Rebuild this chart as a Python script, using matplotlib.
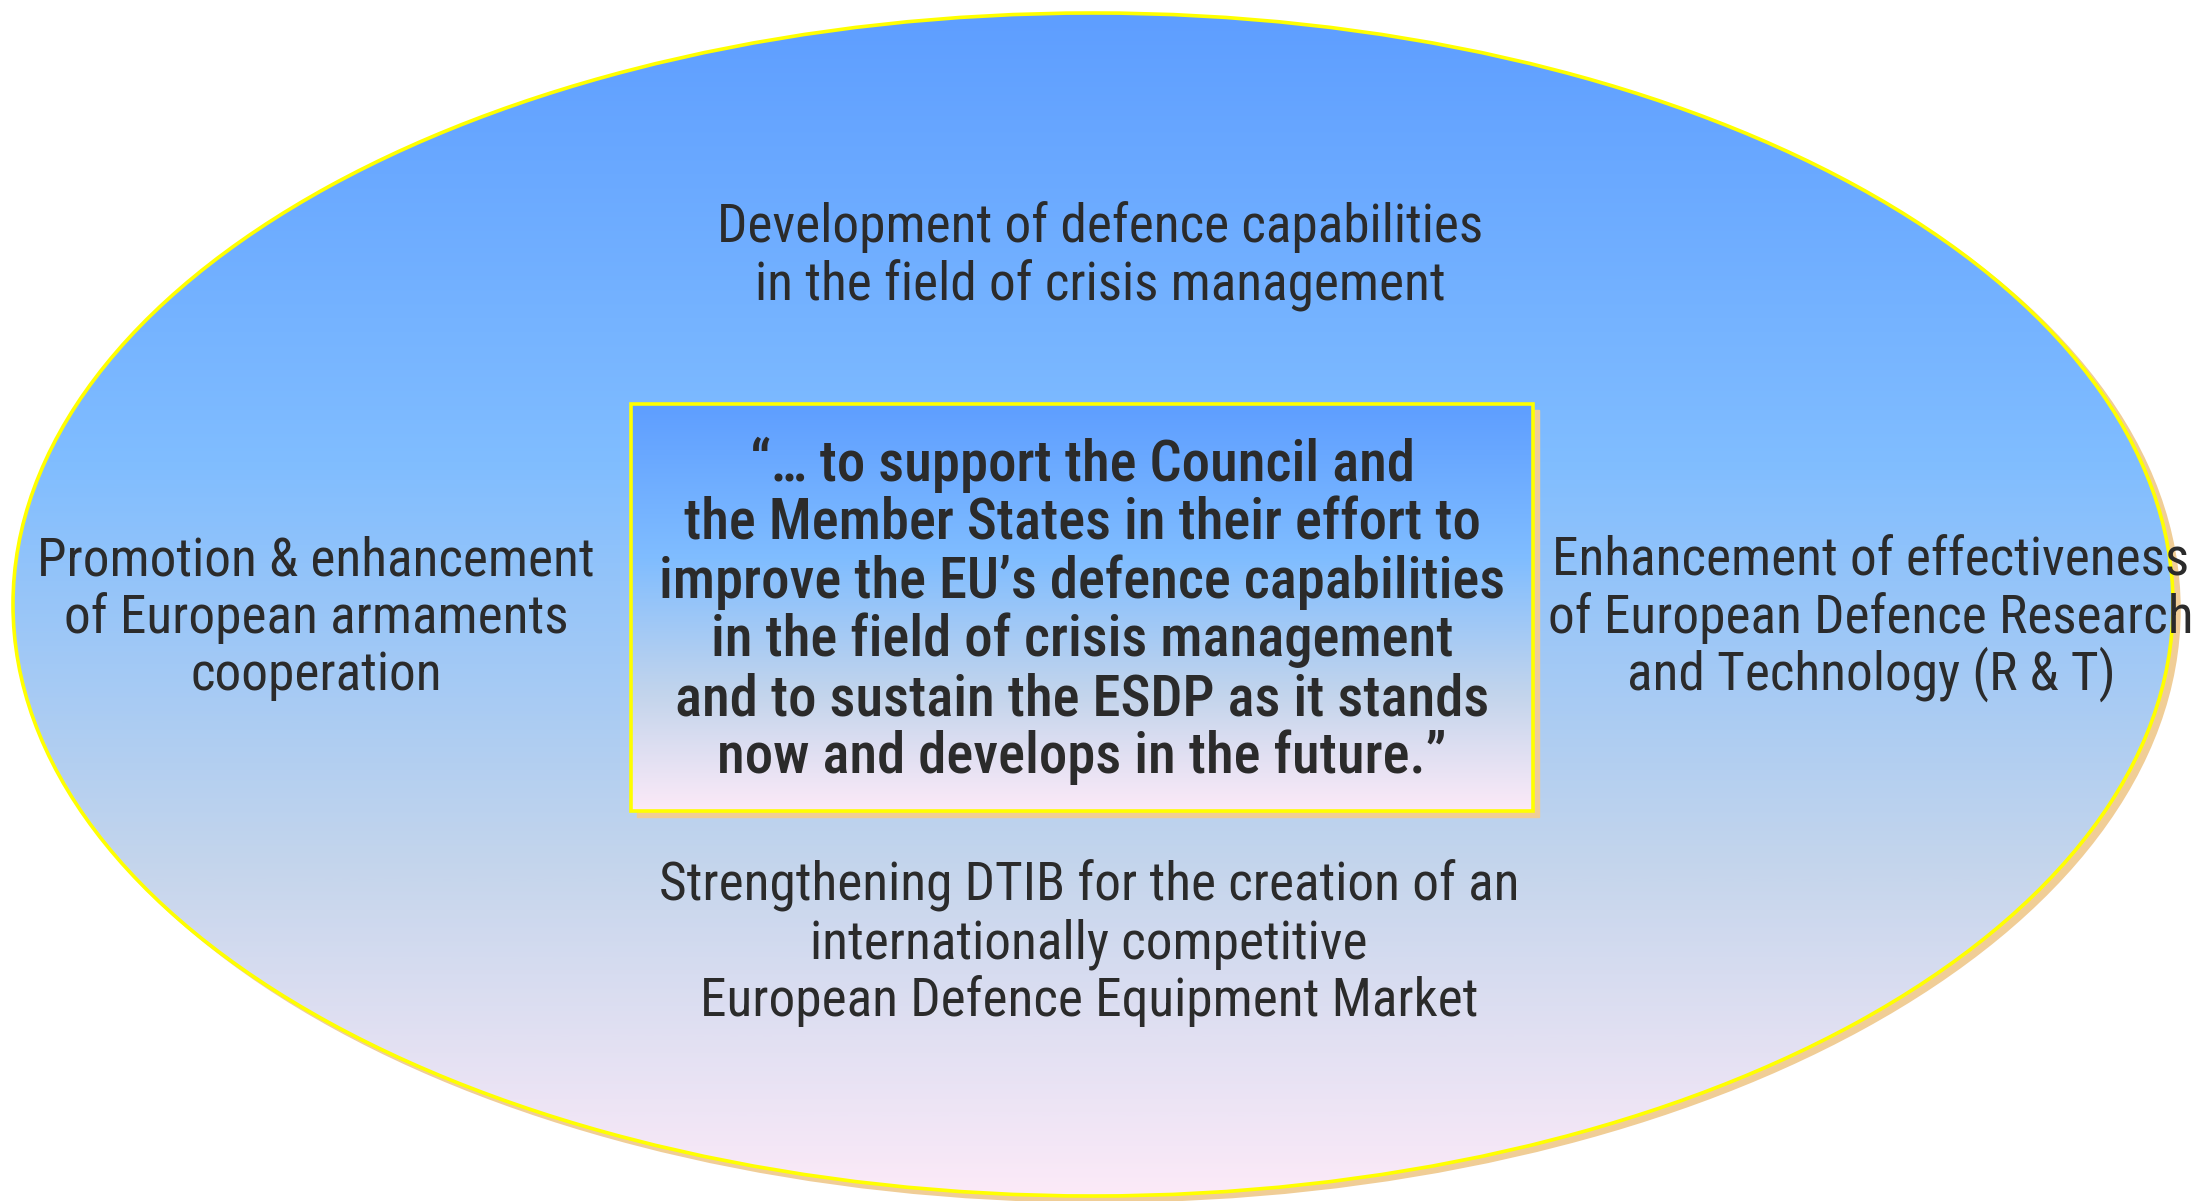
import matplotlib
matplotlib.use('Agg')
import matplotlib.pyplot as plt
import numpy as np
from matplotlib.patches import Ellipse, Rectangle
from matplotlib.colors import LinearSegmentedColormap
from matplotlib import font_manager as fm

# ---- content ----
top_lines = ["Development of defence capabilities",
             "in the field of crisis management"]
left_lines = ["Promotion & enhancement",
              "of European armaments",
              "cooperation"]
right_lines = ["Enhancement of effectiveness",
               "of European Defence Research",
               "and Technology (R & T)"]
bottom_lines = ["Strengthening DTIB for the creation of an",
                "internationally competitive",
                "European Defence Equipment Market"]
box_lines = ["\u201c\u2026 to support the Council and",
             "the Member States in their effort to",
             "improve the EU\u2019s defence capabilities",
             "in the field of crisis management",
             "and to sustain the ESDP as it stands",
             "now and develops in the future.\u201d"]

W, H = 2204, 1201
fig = plt.figure(figsize=(W / 100, H / 100), dpi=100)
ax = fig.add_axes([0, 0, 1, 1])
ax.axis('off')


def pick(cands):
    for c in cands:
        try:
            fm.findfont(fm.FontProperties(family=c), fallback_to_default=False)
            return c
        except Exception:
            pass
    return 'DejaVu Sans'


FAM = pick(['Liberation Sans Narrow', 'Roboto Condensed', 'Roboto', 'Liberation Sans'])
TXT = '#2B2B2B'
YEL = '#FFFF00'
SHADOW = '#F0CD96'

cmap = LinearSegmentedColormap.from_list(
    'g', [(0.0, '#5E9EFF'), (0.38, '#80BDFF'), (0.72, '#C4D5EC'), (1.0, '#FCEAF8')])
grad = np.linspace(0, 1, 512).reshape(-1, 1)

# ---- ellipse ----
ex0, ex1, ey0, ey1 = 13, 2173, 13, 1196
ecx, ecy = (ex0 + ex1) / 2, (ey0 + ey1) / 2
ew, eh = ex1 - ex0, ey1 - ey0
ax.add_patch(Ellipse((ecx + 6, ecy + 5), ew, eh, facecolor=SHADOW,
                     edgecolor=SHADOW, lw=2.5, zorder=1))
ell = Ellipse((ecx, ecy), ew, eh, facecolor='none', edgecolor=YEL, lw=2.6, zorder=3)
ax.add_patch(ell)
im = ax.imshow(grad, cmap=cmap, extent=[ex0, ex1, ey1, ey0], aspect='auto',
               origin='upper', zorder=2, interpolation='bilinear')
im.set_clip_path(ell)

# ---- box ----
bx0, bx1, by0, by1 = 631, 1533, 404, 811
ax.add_patch(Rectangle((bx0 + 6, by0 + 6), bx1 - bx0, by1 - by0,
                       facecolor=SHADOW, edgecolor=SHADOW, lw=1, zorder=4))
rect = Rectangle((bx0, by0), bx1 - bx0, by1 - by0, facecolor='none',
                 edgecolor=YEL, lw=2.6, zorder=6)
ax.add_patch(rect)
im2 = ax.imshow(grad, cmap=cmap, extent=[bx0, bx1, by1, by0], aspect='auto',
                origin='upper', zorder=5, interpolation='bilinear')
im2.set_clip_path(rect)

ax.set_xlim(0, W)
ax.set_ylim(H, 0)

renderer = fig.canvas.get_renderer()


def fit_size(s, target, weight='normal'):
    t = ax.text(0, 0, s, fontsize=40, family=FAM, weight=weight)
    w = t.get_window_extent(renderer=renderer).width
    t.remove()
    return 40 * target / w


BOLD = 'medium'
fs_reg = fit_size(top_lines[0], 766)
fs_bold = fit_size(box_lines[2], 845, BOLD)


def block(lines, cx, baselines, fs, weight='normal', z=7):
    for s, y in zip(lines, baselines):
        ax.text(cx, y, s, ha='center', va='baseline', fontsize=fs,
                family=FAM, weight=weight, color=TXT, zorder=z)


block(top_lines, 1100, [242, 300], fs_reg)
block(left_lines, 316, [575, 633, 690], fs_reg)
block(right_lines, 1871, [575, 633, 690], fs_reg)
block(bottom_lines, 1089, [900, 958, 1016], fs_reg)
block(box_lines, 1082, [481, 539, 598, 656, 715, 773], fs_bold, BOLD)

fig.savefig('out.png', dpi=100)
